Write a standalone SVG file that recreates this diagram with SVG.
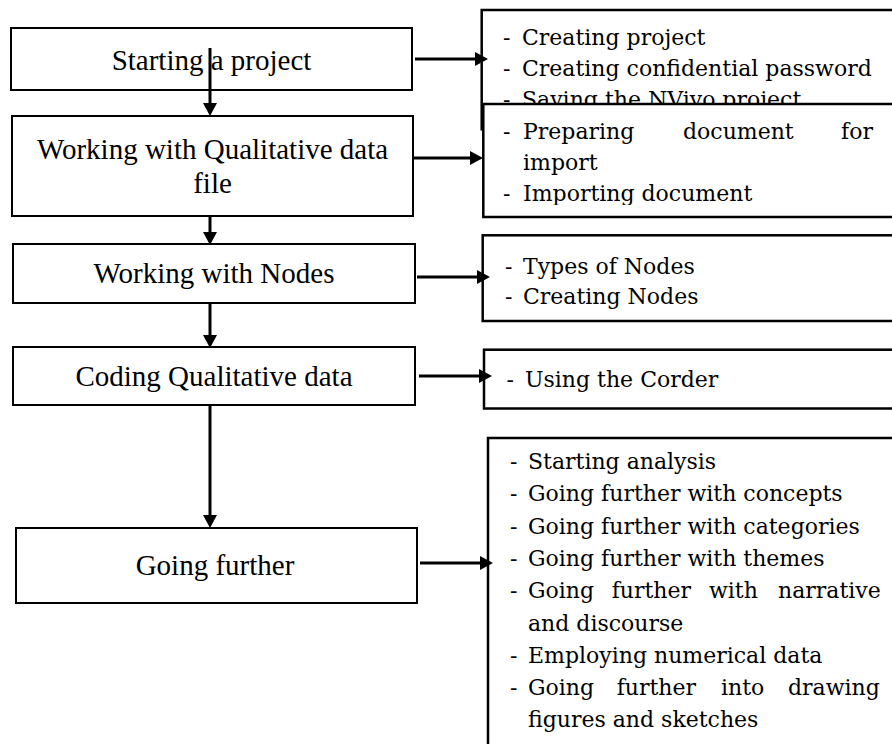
<svg xmlns="http://www.w3.org/2000/svg" width="892" height="744" viewBox="0 0 892 744">
<style>
.box{fill:#fff;stroke:#000;stroke-width:2}
.rbox{fill:#fff;stroke:#000;stroke-width:2.5}
.lt{font-family:"Liberation Serif","Times New Roman",serif;font-size:29px;fill:#000;text-anchor:middle}
.rt{font-family:"DejaVu Serif","Liberation Serif",serif;font-size:22px;fill:#000}
.con{stroke:#000;stroke-width:3;fill:none;marker-end:url(#ah)}
</style>
<defs>
<marker id="ah" markerUnits="userSpaceOnUse" markerWidth="14" markerHeight="14" refX="5" refY="7" orient="auto" overflow="visible">
<path d="M0,0 L13,7 L0,14 Z" fill="#000"/>
</marker>
<clipPath id="c2"><rect x="483" y="104" width="420" height="101"/></clipPath>
</defs>
<rect width="892" height="744" fill="#fff"/>

<g id="n1">
<rect class="box" x="11" y="28" width="401" height="62"/>
<text class="lt" x="211.5" y="70">Starting a project</text>
</g>
<g id="n2">
<rect class="box" x="12" y="116" width="401" height="100"/>
<text class="lt" x="212.5" y="159">Working with Qualitative data</text>
<text class="lt" x="212.5" y="193">file</text>
</g>
<g id="n3">
<rect class="box" x="13" y="244" width="402" height="59"/>
<text class="lt" x="214" y="283">Working with Nodes</text>
</g>
<g id="n4">
<rect class="box" x="13" y="347" width="402" height="58"/>
<text class="lt" x="214" y="386">Coding Qualitative data</text>
</g>
<g id="n5">
<rect class="box" x="16" y="528" width="401" height="75"/>
<text class="lt" x="215" y="575">Going further</text>
</g>

<g id="r1">
<rect class="rbox" x="481.7" y="10" width="430" height="119.3"/>
<text class="rt" x="503" y="45">-</text><text class="rt" x="522" y="45">Creating project</text>
<text class="rt" x="503" y="76">-</text><text class="rt" x="522" y="76">Creating confidential password</text>
<text class="rt" x="503" y="107">-</text><text class="rt" x="522" y="107">Saving the NVivo project</text>
</g>
<g id="r2">
<rect class="rbox" x="483.3" y="104" width="430" height="113"/>
<g clip-path="url(#c2)">
<text class="rt" x="503" y="139">-</text><text class="rt" y="139"><tspan x="523">Preparing</tspan><tspan x="683">document</tspan><tspan x="841">for</tspan></text>
<text class="rt" x="523" y="170">import</text>
<text class="rt" x="503" y="201">-</text><text class="rt" x="523" y="201">Importing document</text>
</g>
</g>
<g id="r3">
<rect class="rbox" x="482.7" y="235.3" width="430" height="85.7"/>
<text class="rt" x="505" y="273.5">-</text><text class="rt" x="523" y="273.5">Types of Nodes</text>
<text class="rt" x="505" y="304">-</text><text class="rt" x="523" y="304">Creating Nodes</text>
</g>
<g id="r4">
<rect class="rbox" x="484" y="349.7" width="430" height="58.8"/>
<text class="rt" x="506.5" y="387">-</text><text class="rt" x="525" y="387">Using the Corder</text>
</g>
<g id="r5">
<rect class="rbox" x="488" y="438" width="430" height="330"/>
<text class="rt" x="510" y="469">-</text><text class="rt" x="528" y="469">Starting analysis</text>
<text class="rt" x="510" y="501.3">-</text><text class="rt" x="528" y="501.3">Going further with concepts</text>
<text class="rt" x="510" y="533.6">-</text><text class="rt" x="528" y="533.6">Going further with categories</text>
<text class="rt" x="510" y="565.9">-</text><text class="rt" x="528" y="565.9">Going further with themes</text>
<text class="rt" x="510" y="598.2">-</text><text class="rt" y="598.2"><tspan x="528">Going</tspan><tspan x="611.7">further</tspan><tspan x="709">with</tspan><tspan x="778">narrative</tspan></text>
<text class="rt" x="528" y="630.5">and discourse</text>
<text class="rt" x="510" y="662.8">-</text><text class="rt" x="528" y="662.8">Employing numerical data</text>
<text class="rt" x="510" y="695.1">-</text><text class="rt" y="695.1"><tspan x="528">Going</tspan><tspan x="616.7">further</tspan><tspan x="721">into</tspan><tspan x="788">drawing</tspan></text>
<text class="rt" x="528" y="727.4">figures and sketches</text>
</g>

<g id="connectors">
<line class="con" x1="210" y1="48" x2="210" y2="108"/>
<line class="con" x1="210" y1="217" x2="210" y2="237"/>
<line class="con" x1="210" y1="304" x2="210" y2="340"/>
<line class="con" x1="210" y1="406" x2="210" y2="520"/>
<line class="con" x1="415" y1="59" x2="480" y2="59"/>
<line class="con" x1="413" y1="158" x2="475" y2="158"/>
<line class="con" x1="417" y1="277" x2="482" y2="277"/>
<line class="con" x1="419" y1="376" x2="484" y2="376"/>
<line class="con" x1="420" y1="563" x2="485" y2="563"/>
</g>
</svg>
